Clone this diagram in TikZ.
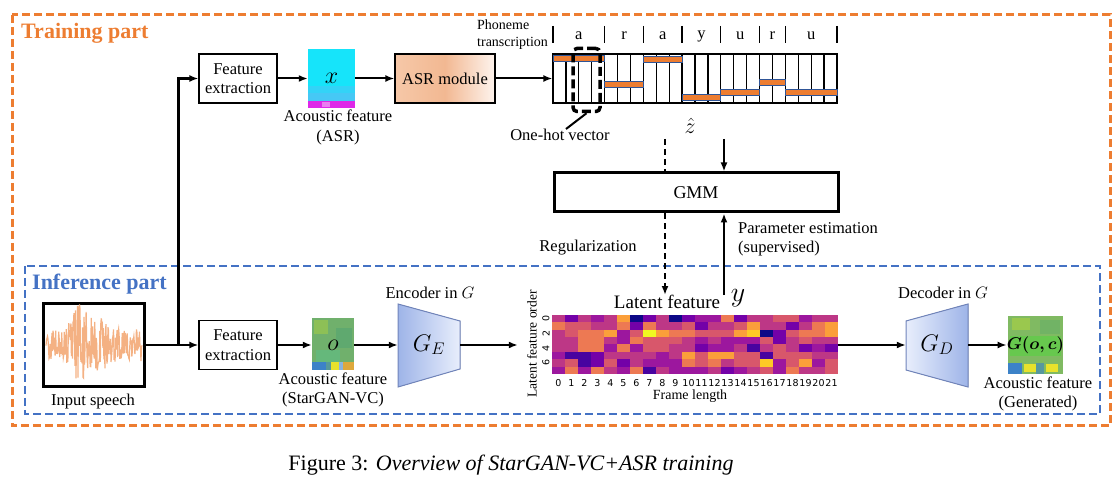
\RequirePackage{fix-cm}
\documentclass[tikz,border=0pt]{standalone}
\usepackage{amsmath, amssymb}
\usepackage{fontspec}
\setmainfont{Liberation Serif}
\newfontfamily\tickfont{DejaVu Sans}
\usetikzlibrary{arrows.meta, positioning}

\definecolor{trainorange}{RGB}{237,125,49}
\definecolor{inferblue}{RGB}{68,114,196}
\definecolor{barorange}{RGB}{237,125,49}
\definecolor{baredge}{RGB}{47,85,151}
\definecolor{wavepeach}{RGB}{244,177,131}
\definecolor{asrpeach}{RGB}{246,200,168}
\definecolor{asrdeep}{RGB}{242,184,146}
\definecolor{asrwhite}{RGB}{254,244,238}
\definecolor{asrcyan}{RGB}{22,228,250}
\definecolor{asrsky}{RGB}{70,200,245}
\definecolor{asrmag}{RGB}{222,40,232}
\definecolor{encdark}{RGB}{158,180,232}
\definecolor{enclight}{RGB}{232,238,252}
\definecolor{encedge}{RGB}{112,132,186}
\definecolor{ogreen}{RGB}{112,176,108}
\definecolor{ggreen}{RGB}{128,186,98}
\definecolor{specblue}{RGB}{60,130,200}
\definecolor{specyellow}{RGB}{232,226,44}
\definecolor{specorange}{RGB}{222,168,60}
% plasma colour map
\definecolor{pl0}{RGB}{13,8,135}
\definecolor{pl1}{RGB}{72,3,160}
\definecolor{pl2}{RGB}{115,1,168}
\definecolor{pl3}{RGB}{156,23,158}
\definecolor{pl4}{RGB}{189,55,134}
\definecolor{pl5}{RGB}{216,87,107}
\definecolor{pl6}{RGB}{237,121,83}
\definecolor{pl7}{RGB}{251,159,58}
\definecolor{pl8}{RGB}{253,202,38}
\definecolor{pl9}{RGB}{240,249,33}

\begin{document}
\begin{tikzpicture}[x=1pt, y=-1pt,
    every node/.style={inner sep=0pt, align=center, font=\fontsize{16.5}{19.5}\selectfont},
    box/.style={draw, line width=1.2pt, minimum width=78pt, minimum height=49pt},
    arr/.style={-{Latex[length=9pt, width=7pt]}, line width=2pt},
    dashline/.style={line width=2pt, dash pattern=on 6pt off 4pt},
    dasharr/.style={arr, dash pattern=on 6pt off 4pt},
    partlbl/.style={font=\fontsize{22}{26}\selectfont\bfseries, anchor=west},
    mathlbl/.style={font=\fontsize{24}{28}\selectfont},
    ticklbl/.style={font=\tickfont\fontsize{9.5}{11}\selectfont}]
    \useasboundingbox (0,0) rectangle (1120,486);

    % frames of the two parts
    \draw[trainorange, line width=3pt, dash pattern=on 8pt off 4pt] (12,15) rectangle (1110,426);
    \draw[inferblue, line width=2.5pt, dash pattern=on 8pt off 4pt] (25,266) rectangle (1100,414);
    \node[partlbl, text=trainorange] (trainlbl) at (21,33) {Training part};
    \node[partlbl, text=inferblue] (inferlbl) at (32,284) {Inference part};

    % training part
    \node[box] (fetop) at (238,78.5) {Feature\\extraction};
    \fill[asrcyan] (308,49) rectangle (355,108);
    \fill[asrsky!60!asrcyan] (308,86) rectangle (355,93);
    \fill[asrsky] (308,93) rectangle (355,101);
    \fill[asrmag] (308,101) rectangle (355,108);
    \fill[asrmag!60!white] (322,102) rectangle (330,107);
    \node[mathlbl, minimum width=47pt, minimum height=59pt] (featx) at (331.5,78.5) {$x$};
    \node (asrlbl) at (338,127.5) {Acoustic feature\\(ASR)};
    \node[box, minimum width=100pt, left color=asrpeach, right color=asrwhite, middle color=asrdeep] (asr) at (445,78.5) {ASR module};

    \node[draw, line width=1.2pt, minimum width=284pt, minimum height=49pt] (grid) at (695,78.5) {};
    \foreach \i in {1,...,21}
        \draw[line width=1.2pt] ({553+284/22*\i},54) -- ({553+284/22*\i},103);
    \foreach \a/\b/\y in {0/4/59, 4/7/85, 7/10/60, 10/13/97.5, 13/16/93, 16/18/83, 18/22/93}
        \filldraw[fill=barorange, draw=baredge, line width=1pt] ({553+284/22*\a},{\y-3}) rectangle ({553+284/22*\b},{\y+3});
    \foreach \a/\b/\p in {0/4/a, 4/7/r, 7/10/a, 10/13/y, 13/16/u, 16/18/r, 18/22/u} {
        \draw[line width=1.2pt] ({553+284/22*\a},26) -- ({553+284/22*\a},43);
        \node (ph\a) at ({553+284/22*(\a+\b)/2},36) {\p};
    }
    \draw[line width=1.2pt] (837,26) -- (837,43);
    \node[anchor=west, align=left, font=\fontsize{14}{17}\selectfont] (phonlbl) at (477,35) {Phoneme\\transcription};

    \node[draw, line width=3.5pt, dash pattern=on 9pt off 4pt, rounded corners=4pt,
          minimum width=27pt, minimum height=63pt] (hotbox) at (586.5,80) {};
    \node (hotlbl) at (560,135) {One-hot vector};
    \draw[line width=2pt] ([xshift=6pt]hotlbl.north) -- (hotbox.south);
    \node[font=\fontsize{22}{26}\selectfont] (zhat) at (690,126) {$\hat{z}$};

    \draw[arr] (fetop) -- (featx);
    \draw[arr] (featx) -- (asr);
    \draw[arr] (asr) -- (grid);

    % GMM
    \node[draw, line width=3pt, minimum width=284pt, minimum height=39pt,
          font=\fontsize{18}{22}\selectfont] (gmm) at (696,192.5) {GMM};
    \coordinate (regtop) at (665,139);
    \coordinate (esttop) at (724,139);
    \draw[dashline] (regtop) -- (regtop |- gmm.north);
    \draw[arr] (esttop) -- (esttop |- gmm.north);
    \node (reglbl) at (588,248) {Regularization};
    \node[anchor=west, align=left] (estlbl) at (738,239.5) {Parameter estimation\\(supervised)};

    % inference part
    \node[draw, line width=3pt, minimum width=101pt, minimum height=83pt] (speech) at (93.5,345) {};
    \begin{scope}
        \clip (speech.south west) rectangle (speech.north east);
        \pgfmathsetseed{11}
        \draw[wavepeach, line width=1.2pt] plot[domain=46:142, samples=190]
            (\x, {345 + (17 + 25*exp(-((\x-80)/10)^2) + 10*exp(-((\x-100)/8)^2))*rand});
    \end{scope}
    \node (speechlbl) at (93,402) {Input speech};
    \node[box] (febot) at (238,345) {Feature\\extraction};
    \coordinate (split) at (178,345);
    \draw[arr] (speech) -- (febot);
    \draw[arr, line width=3pt] (split) |- (fetop.west);

    \fill[ogreen] (312,318) rectangle (354,370);
    \fill[ogreen!80!yellow] (314,320) rectangle (328,334);
    \fill[ogreen!85!teal] (336,328) rectangle (352,348);
    \fill[ogreen!90!cyan] (316,350) rectangle (340,362);
    \fill[specblue] (312,362) rectangle (326,370);
    \fill[specblue!50!ogreen] (326,362) rectangle (331,370);
    \fill[specyellow] (331,362) rectangle (339,370);
    \fill[specblue!60!white] (339,362) rectangle (343,370);
    \fill[specorange] (343,362) rectangle (354,370);
    \node[mathlbl, minimum width=42pt, minimum height=52pt] (feato) at (333,345) {$o$};
    \node (olbl) at (333,390) {Acoustic feature\\(StarGAN-VC)};
    \draw[arr] (febot) -- (feato);

    \filldraw[left color=encdark, right color=enclight, draw=encedge, line width=1pt]
        (398,304) -- (460,321) -- (460,369) -- (398,387) -- cycle;
    \node[mathlbl, minimum width=62pt, minimum height=83pt] (enc) at (429,345) {$G_E$};
    \node (enclbl) at (430,293) {Encoder in $G$};
    \draw[arr] (feato) -- (enc);

    % latent feature map
    \foreach \row [count=\r from 0] in {
        {4,2,4,3,4,7,0,2,4,0,2,3,3,6,2,4,4,5,5,3,4,4},
        {6,5,5,4,4,6,2,6,4,4,5,2,4,4,5,7,4,4,2,4,6,7},
        {4,5,6,6,7,3,5,9,7,6,6,5,5,5,7,8,0,2,5,6,6,7},
        {4,4,6,6,4,3,6,5,5,5,4,3,4,3,3,3,5,2,4,5,4,4},
        {4,4,6,6,3,6,3,5,5,4,4,2,3,3,4,1,4,5,4,2,3,2},
        {3,1,1,2,4,4,4,4,3,4,7,5,7,7,5,5,1,5,5,5,4,4},
        {4,5,1,2,5,2,4,3,3,3,6,5,6,4,5,5,8,3,5,7,3,5},
        {3,6,3,6,4,3,6,1,4,3,3,3,4,2,3,4,5,3,6,4,4,5}} {
        \foreach \v [count=\c from 0] in \row
            \fill[fill=pl\v] ({552+13*\c},{315+7.375*\r}) rectangle ++(13,7.375);
    }
    \foreach \c in {0,...,21}
        \node[ticklbl] (xt\c) at ({558.5+13*\c},383) {\c};
    \foreach \r in {0,2,4,6}
        \node[ticklbl, rotate=90] (yt\r) at (546,{315+7.375*(\r+0.5)}) {\r};
    \node[rotate=90, font=\fontsize{13.5}{16}\selectfont] (orderlbl) at (532,344) {Latent feature order};
    \node[font=\fontsize{14}{17}\selectfont] (framelbl) at (690,396) {Frame length};
    \node[minimum width=320pt, minimum height=59pt] (latentplot) at (678,345) {};
    \node[font=\fontsize{19}{22}\selectfont] (latentlbl) at (667,302) {Latent feature};
    \node[font=\fontsize{28}{30}\selectfont] (latenty) at (738,298) {$y$};
    \draw[dasharr] (regtop |- gmm.south) -- (regtop |- latentlbl.north);
    \draw[arr] (esttop |- latentlbl.north) -- (esttop |- gmm.south);
    \draw[arr] (enc) -- (latentplot);

    % decoder and generated feature
    \filldraw[left color=enclight, right color=encdark, draw=encedge, line width=1pt]
        (906,321) -- (968,304) -- (968,387) -- (906,370) -- cycle;
    \node[mathlbl, minimum width=62pt, minimum height=83pt] (dec) at (937,345) {$G_D$};
    \node (declbl) at (943,293) {Decoder in $G$};
    \draw[arr] (latentplot) -- (dec);

    \fill[ggreen] (1008,316) rectangle (1063,374);
    \fill[ggreen!80!yellow] (1012,318) rectangle (1030,330);
    \fill[ggreen!88!teal] (1040,320) rectangle (1060,334);
    \fill[ggreen!80!green] (1010,336) rectangle (1061,356);
    \fill[specblue] (1008,363) rectangle (1022,374);
    \fill[specyellow] (1024,364) rectangle (1036,372);
    \fill[specblue!60!ggreen] (1036,363) rectangle (1044,374);
    \fill[specyellow] (1046,364) rectangle (1058,372);
    \node[minimum width=55pt, minimum height=58pt, font=\fontsize{17}{20}\selectfont] (featg) at (1035.5,345) {$\boldsymbol{G(o,c)}$};
    \node (glbl) at (1038,394) {Acoustic feature\\(Generated)};
    \draw[arr] (dec) -- (featg);

    % caption
    \node[anchor=base, font=\fontsize{22}{26}\selectfont] (caption) at (511,471)
        {Figure 3: \textit{Overview of StarGAN-VC+ASR training}};
\end{tikzpicture}
\end{document}
